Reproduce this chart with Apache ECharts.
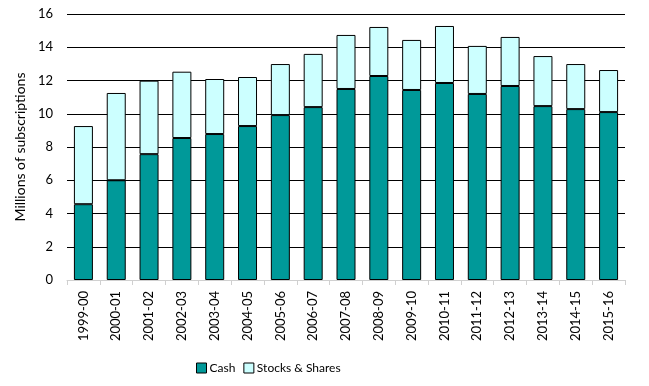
<!DOCTYPE html>
<html><head><meta charset="utf-8">
<script src="https://cdn.jsdelivr.net/npm/echarts@6/dist/echarts.min.js"></script>
<style>html,body{margin:0;padding:0;background:#fff}#c{width:649px;height:386px}</style>
</head><body><div id="c"></div>
<script>
var categories = ['1999-00','2000-01','2001-02','2002-03','2003-04','2004-05','2005-06','2006-07','2007-08','2008-09','2009-10','2010-11','2011-12','2012-13','2013-14','2014-15','2015-16'];
var cash = [4.56,6.0,7.57,8.54,8.78,9.26,9.92,10.4,11.49,12.27,11.43,11.85,11.19,11.67,10.46,10.28,10.1];
var stocks = [4.70,5.25,4.42,3.99,3.31,2.95,3.07,3.20,3.25,2.95,3.01,3.43,2.89,2.95,3.01,2.71,2.53];
var yTicks = {min:0, max:16, interval:2};
var font = 'Lato, "Open Sans", sans-serif';
var chart = echarts.init(document.getElementById('c'));
chart.setOption({
  animation:false,
  textStyle:{fontFamily:font},
  grid:{left:67,right:24,top:14,bottom:106},
  legend:{top:357,left:191,itemWidth:10,itemHeight:10,itemGap:8,icon:'rect',
    textStyle:{fontFamily:font,fontSize:12,color:'#000',padding:[0,0,0,-2]},
    data:[{name:'Cash',itemStyle:{borderColor:'#000',borderWidth:1}},{name:'Stocks & Shares',itemStyle:{borderColor:'#000',borderWidth:1}}]},
  xAxis:{type:'category',data:categories,boundaryGap:true,
    axisLine:{lineStyle:{color:'#d0d0d0',width:1}},
    axisTick:{show:true,alignWithLabel:false,length:5,lineStyle:{color:'#d0d0d0'}},
    axisLabel:{rotate:90,interval:0,fontSize:13,color:'#000',fontFamily:font,margin:11}},
  yAxis:{type:'value',min:yTicks.min,max:yTicks.max,interval:yTicks.interval,
    name:'Millions of subscriptions',nameLocation:'middle',nameGap:33,
    nameTextStyle:{fontSize:14,color:'#000',fontFamily:font},
    axisLine:{show:false},axisTick:{show:false},
    axisLabel:{fontSize:13,color:'#000',fontFamily:font,margin:14},
    splitLine:{lineStyle:{color:'#000',width:1}}},
  series:[
    {name:'Cash',type:'bar',stack:'t',data:cash,barWidth:19,
      itemStyle:{color:'#009999',borderColor:'#000',borderWidth:1}},
    {name:'Stocks & Shares',type:'bar',stack:'t',data:stocks,barWidth:19,
      itemStyle:{color:'#CCFFFF',borderColor:'#000',borderWidth:1}}
  ]
});
</script></body></html>
